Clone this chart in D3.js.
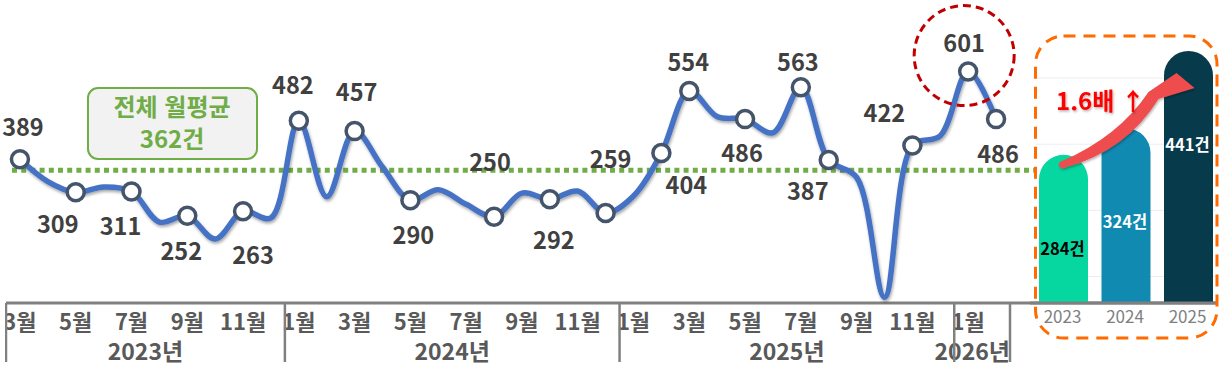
<!DOCTYPE html>
<html lang="ko">
<head>
<meta charset="utf-8">
<script src="https://cdn.jsdelivr.net/npm/d3@7"></script>
<style>
  html, body { margin: 0; padding: 0; background: #fff; }
  svg { display: block; font-family: 'Noto Sans CJK KR', 'Noto Sans', sans-serif; }
</style>
</head>
<body>
<svg id="chart" width="1223" height="367"></svg>
<script>
// MONTHLY CASES, 2023-03 .. 2026-02
const years = ['2023', '2024', '2025', '2026']
const yearMonths = [
	[3, 4, 5, 6, 7, 8, 9, 10, 11, 12],
	[1, 2, 3, 4, 5, 6, 7, 8, 9, 10, 11, 12],
	[1, 2, 3, 4, 5, 6, 7, 8, 9, 10, 11, 12],
	[1, 2]
]
const counts = [
	389, 335, 309, 322, 311, 237, 252, 196, 263, 247,
	482, 298, 457, 370, 290, 315, 280, 250, 307, 292, 312, 259,
	300, 404, 554, 492, 486, 453, 563, 387, 345, 55, 422, 446,
	601, 486
]
// months that carry a marker + value label
const labelled = [0, 2, 4, 6, 8, 10, 12, 14, 17, 19, 21, 23, 24, 26, 28, 29, 32, 34, 35]
const monthlyAvg = 362
const avgText = ['전체 월평균', '362건']

// YEARLY MONTHLY AVERAGE (RIGHT PANEL)
const barYears = ['2023', '2024', '2025']
const barValues = [284, 324, 441]
const growthText = '1.6배 ↑'

// label placement (dx, dy from marker), layout only
const labelShift = {
	0: [3, -31], 2: [-18, 32], 4: [-11, 35], 6: [-6, 36], 8: [10, 44],
	10: [-6, -35], 12: [2, -38], 14: [3, 36], 17: [-4, -54], 19: [4, 41],
	21: [5, -53], 23: [25, 33], 24: [-1, -28], 26: [-3, 35], 28: [-3, -25],
	29: [-21, 32], 32: [-28, -32], 34: [-4, -28], 35: [2, 36]
}

const svg = d3.select('#chart')
const defs = svg.append('defs')

defs.append('filter').attr('id', 'shadow')
	.attr('x', '-10%').attr('y', '-10%').attr('width', '120%').attr('height', '130%')
	.append('feDropShadow')
	.attr('dx', 1).attr('dy', 2).attr('stdDeviation', 1.5)
	.attr('flood-color', '#000').attr('flood-opacity', 0.35)

defs.append('filter').attr('id', 'tshadow')
	.append('feDropShadow')
	.attr('dx', 1).attr('dy', 1.5).attr('stdDeviation', 1)
	.attr('flood-color', '#000').attr('flood-opacity', 0.3)

defs.append('clipPath').attr('id', 'clip-left')
	.append('rect').attr('x', 5).attr('y', 0).attr('width', 1218).attr('height', 367)

// SCALES
const keys = []
yearMonths.forEach((ms, i) => ms.forEach(m => keys.push(`${years[i]}-${m}`)))
const data = keys.map((k, i) => ({ key: k, year: k.split('-')[0], month: +k.split('-')[1], value: counts[i], i }))

const x = d3.scaleBand().domain(keys).range([6, 1010])
const cx = k => x(k) + x.bandwidth() / 2
const y = d3.scaleLinear().domain([0, 600]).range([320, 72])
const axisY = 303

// AVERAGE DOTTED LINE
svg.append('line')
	.attr('x1', 12).attr('x2', 1034)
	.attr('y1', y(monthlyAvg)).attr('y2', y(monthlyAvg))
	.attr('stroke', '#70AD47').attr('stroke-width', 5)
	.attr('stroke-dasharray', '5 4.2')

// AXIS
const axis = svg.append('g').attr('clip-path', 'url(#clip-left)')
axis.append('line')
	.attr('x1', 6).attr('x2', 1217).attr('y1', axisY).attr('y2', axisY)
	.attr('stroke', '#808080').attr('stroke-width', 3)

axis.selectAll('text.month')
	.data(data.filter(d => d.month % 2 === 1))
	.join('text').attr('class', 'month')
	.attr('x', d => cx(d.key)).attr('y', 322)
	.attr('dy', '0.35em').attr('text-anchor', 'middle')
	.attr('font-size', 22).attr('font-weight', 700).attr('fill', '#595959')
	.text(d => `${d.month}월`)

const yearSpans = years.map(yr => {
	const ks = keys.filter(k => k.startsWith(yr))
	return { year: yr, x0: x(ks[0]), x1: x(ks[ks.length - 1]) + x.bandwidth() }
})
axis.selectAll('text.year')
	.data(yearSpans)
	.join('text').attr('class', 'year')
	.attr('y', 352)
	.attr('dy', '0.35em').attr('text-anchor', 'middle')
	.attr('font-size', 23).attr('font-weight', 700).attr('fill', '#595959')
	.text(d => `${d.year}년`)
	// keep the label inside the axis: shift left when it would run past the end
	.attr('x', function (d) {
		const w = this.getComputedTextLength()
		return Math.min((d.x0 + d.x1) / 2, d.x1 - w / 2)
	})

const seps = [yearSpans[0].x0].concat(yearSpans.map(d => d.x1))
axis.selectAll('line.sep')
	.data(seps)
	.join('line').attr('class', 'sep')
	.attr('x1', d => d).attr('x2', d => d)
	.attr('y1', axisY).attr('y2', 362)
	.attr('stroke', '#808080').attr('stroke-width', 2.5)

// LINE
const line = d3.line()
	.x(d => cx(d.key)).y(d => y(d.value))
	.curve(d3.curveCatmullRom.alpha(0.5))

svg.append('path')
	.datum(data)
	.attr('d', line)
	.attr('fill', 'none').attr('stroke', '#4472C4')
	.attr('stroke-width', 5.5).attr('stroke-linejoin', 'round')
	.attr('filter', 'url(#shadow)')

const marked = data.filter(d => labelled.includes(d.i))
svg.selectAll('circle.marker')
	.data(marked)
	.join('circle').attr('class', 'marker')
	.attr('cx', d => cx(d.key)).attr('cy', d => y(d.value)).attr('r', 8.5)
	.attr('fill', '#fff').attr('stroke', '#44546A').attr('stroke-width', 3.5)

svg.selectAll('text.val')
	.data(marked)
	.join('text').attr('class', 'val')
	.attr('x', d => cx(d.key) + labelShift[d.i][0])
	.attr('y', d => y(d.value) + labelShift[d.i][1])
	.attr('dy', '0.35em').attr('text-anchor', 'middle')
	.attr('font-size', 23.5).attr('font-weight', 700).attr('fill', '#404040')
	.text(d => d3.format(',')(d.value))

// AVERAGE CALLOUT
const avgBox = svg.append('g')
avgBox.append('rect')
	.attr('x', 88).attr('y', 88).attr('width', 169).attr('height', 71).attr('rx', 10)
	.attr('fill', '#F2F2F2').attr('stroke', '#70AD47').attr('stroke-width', 2)
avgBox.selectAll('text')
	.data(avgText)
	.join('text')
	.attr('x', 172).attr('y', (d, i) => 108 + i * 32)
	.attr('dy', '0.35em').attr('text-anchor', 'middle')
	.attr('font-size', 24).attr('font-weight', 700).attr('fill', '#70AD47')
	.text(d => d)

// PEAK HIGHLIGHT
const peak = data.reduce((a, b) => (b.value > a.value ? b : a))
svg.append('circle')
	.attr('cx', cx(peak.key) - 4).attr('cy', y(peak.value) - 16).attr('r', 50)
	.attr('fill', 'none').attr('stroke', '#C00000').attr('stroke-width', 3)
	.attr('stroke-dasharray', '8 5')

// RIGHT PANEL
const xb = d3.scaleBand().domain(barYears).range([1032.5, 1219.5]).paddingInner(0.216).paddingOuter(0.104)
const yb = d3.scaleLinear().domain([60, 450]).range([axisY, 45])
const barColors = ['#06D6A0', '#118AB2', '#073B4C']
const barText = ['#000', '#fff', '#fff']
const bars = barYears.map((yr, i) => ({ year: yr, value: barValues[i], i }))

const panel = svg.append('g')
panel.selectAll('line.grid')
	.data(yb.ticks(4).filter(t => t >= 100))
	.join('line').attr('class', 'grid')
	.attr('x1', 1036).attr('x2', 1216)
	.attr('y1', d => yb(d)).attr('y2', d => yb(d))
	.attr('stroke', '#EDEDED').attr('stroke-width', 1)

const bw = xb.bandwidth()
panel.selectAll('path.bar')
	.data(bars)
	.join('path').attr('class', 'bar')
	.attr('d', d => {
		const x0 = xb(d.year), x1 = x0 + bw, r = bw / 2, top = yb(d.value)
		return `M${x0},${axisY}V${top + r}A${r},${r} 0 0 1 ${x1},${top + r}V${axisY}Z`
	})
	.attr('fill', d => barColors[d.i])

panel.append('line')
	.attr('x1', 1030).attr('x2', 1217).attr('y1', axisY).attr('y2', axisY)
	.attr('stroke', '#808080').attr('stroke-width', 3)

panel.selectAll('text.barval')
	.data(bars)
	.join('text').attr('class', 'barval')
	.attr('x', d => xb(d.year) + bw / 2 - 1)
	.attr('y', d => yb(d.value) + 94)
	.attr('dy', '0.35em').attr('text-anchor', 'middle')
	.attr('font-size', 16.5).attr('font-weight', 700).attr('fill', d => barText[d.i])
	.text(d => `${d.value}건`)

panel.selectAll('text.baryear')
	.data(bars)
	.join('text').attr('class', 'baryear')
	.attr('x', d => xb(d.year) + bw / 2 - 1).attr('y', 317)
	.attr('dy', '0.35em').attr('text-anchor', 'middle')
	.attr('font-size', 17).attr('fill', '#7F7F7F')
	.text(d => d.year)

// growth arrow from first bar to last bar
const ax0 = xb(barYears[0]) + bw / 2 - 1, ay0 = yb(barValues[0]) + 10
const ax1 = xb(barYears[2]) + bw / 2 + 6, ay1 = yb(barValues[2]) + 37
panel.append('path')
	.attr('d', `M${ax0 - 2},${ay0 - 3}`
		+ `Q${ax0 + 56},${ay0 - 28} ${ax1 - 46},${ay1 + 4}`
		+ `L${ax1 - 18},${ay1 - 15}`
		+ `L${ax1},${ay1}`
		+ `L${ax1 - 36},${ay1 + 11}`
		+ `Q${ax0 + 64},${ay0 - 14} ${ax0 + 2},${ay0 + 3}`
		+ `A3,3 0 0 1 ${ax0 - 2},${ay0 - 3}Z`)
	.attr('fill', '#EF4D4D')
	.attr('filter', 'url(#tshadow)')

panel.append('text')
	.attr('x', 1056).attr('y', 102)
	.attr('dy', '0.35em')
	.attr('font-size', 24).attr('font-weight', 700).attr('fill', '#FF0000')
	.attr('filter', 'url(#tshadow)')
	.text(growthText)

panel.append('rect')
	.attr('x', 1035.5).attr('y', 36).attr('width', 181.5).attr('height', 302).attr('rx', 28)
	.attr('fill', 'none').attr('stroke', '#FF6B00').attr('stroke-width', 3)
	.attr('stroke-dasharray', '12 8')
</script>
</body>
</html>
